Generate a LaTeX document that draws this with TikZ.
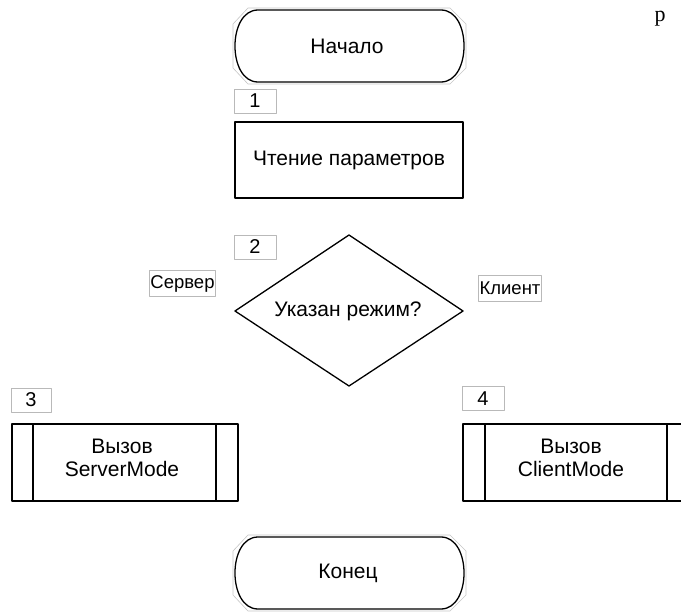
\documentclass[tikz,border=0pt]{standalone}
\usepackage{fontspec}
\setmainfont{Liberation Sans}
\newfontfamily\serifchar{Liberation Serif}
\begin{document}
\begin{tikzpicture}[x=1pt, y=-1pt, line join=round]
        \tikzset{
            blok/.style={line width=1.3pt, black},
            ramka/.style={draw=gray!45, line width=0.6pt},
            txt/.style={font=\fontsize{21}{22.5}\selectfont, align=center, inner sep=0pt},
            numbox/.style={draw=gray!55, line width=0.6pt, minimum width=42pt, minimum height=24pt, inner sep=0pt, font=\fontsize{20}{22}\selectfont},
            vetka/.style={draw=gray!55, line width=0.6pt, inner xsep=1pt, minimum height=26pt, font=\fontsize{18.5}{20}\selectfont}
        }
        \useasboundingbox (0,0) rectangle (681,613);
        \clip (0,0) rectangle (681,613);

        % --- Обрывок текста сверху справа ---
        \node[font=\serifchar\fontsize{22}{26}\selectfont, anchor=base, inner sep=0pt] (obryvok) at (660,21) {р};

        % --- Начало ---
        \draw[ramka] (248,8) -- (450,8) -- (466,24) -- (466,68) -- (450,84) -- (248,84) -- (233,68) -- (233,24) -- cycle;
        \draw[blok] (258,10) -- (441,10) .. controls (471.7,10) and (471.7,82) .. (441,82)
            -- (258,82) .. controls (227.3,82) and (227.3,10) .. (258,10) -- cycle;
        \node[txt] (nachalo) at (347,46) {Начало};

        % --- 1: Чтение параметров ---
        \node[numbox] (n1) at (255,101) {1};
        \node[draw, blok, txt, minimum width=228pt, minimum height=76pt] (chtenie) at (349,160) {Чтение параметров};

        % --- 2: Указан режим? ---
        \node[numbox] (n2) at (255,247) {2};
        \draw[blok] (349,235) -- (463,311) -- (349,386) -- (235,311) -- cycle;
        \node[txt] (rezhim) at (348,311) {Указан режим?};
        \node[vetka] (server) at (182.5,283.5) {Сервер};
        \node[vetka] (klient) at (510,288) {Клиент};

        % --- 3: Вызов ServerMode ---
        \node[numbox, minimum width=40pt] (n3) at (31,400) {3};
        \draw[blok] (12,424) rectangle (238,501);
        \draw[blok] (33,424) -- (33,501);
        \draw[blok] (216,424) -- (216,501);
        \node[txt] (vyzovS) at (122,458) {Вызов\\ServerMode};

        % --- 4: Вызов ClientMode ---
        \node[numbox] (n4) at (483,398.5) {4};
        \draw[blok] (463,424) rectangle (689,501);
        \draw[blok] (485,424) -- (485,501);
        \draw[blok] (667,424) -- (667,501);
        \node[txt] (vyzovC) at (571,458) {Вызов\\ClientMode};

        % --- Конец ---
        \draw[ramka] (248,535) -- (450,535) -- (466,551) -- (466,595) -- (450,611) -- (248,611) -- (233,595) -- (233,551) -- cycle;
        \draw[blok] (258,537) -- (441,537) .. controls (471.7,537) and (471.7,609) .. (441,609)
            -- (258,609) .. controls (227.3,609) and (227.3,537) .. (258,537) -- cycle;
        \node[txt] (konec) at (348,573) {Конец};
\end{tikzpicture}
\end{document}
